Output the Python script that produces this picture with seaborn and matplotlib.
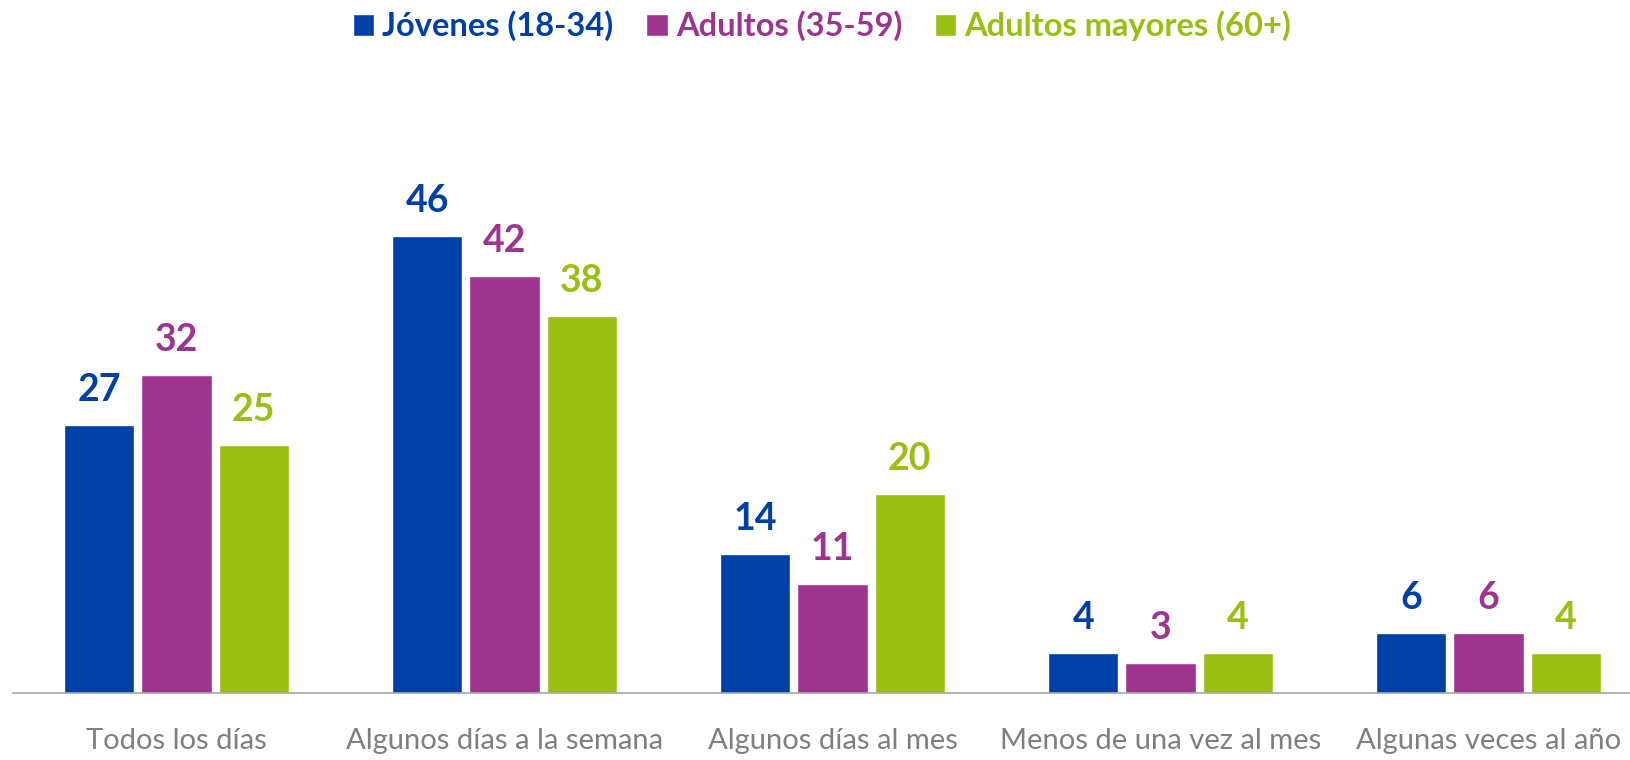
import pandas as pd
import matplotlib.pyplot as plt
import seaborn as sns

# --- Data ---
categorias = ["Todos los días", "Algunos días a la semana", "Algunos días al mes",
              "Menos de una vez al mes", "Algunas veces al año"]
grupos = ["Jóvenes (18-34)", "Adultos (35-59)", "Adultos mayores (60+)"]
jovenes = [27, 46, 14, 4, 6]
adultos = [32, 42, 11, 3, 6]
mayores = [25, 38, 20, 4, 4]
colores = ["#003FA6", "#9E348E", "#9BBE13"]

df = pd.DataFrame({
    "categoria": categorias * 3,
    "grupo": [g for g in grupos for _ in categorias],
    "valor": jovenes + adultos + mayores,
})

sns.set_style("white")
plt.rcParams["font.family"] = ["Lato", "DejaVu Sans"]

fig = plt.figure(figsize=(16.31, 7.6), dpi=100)
ax = fig.add_axes([12.5 / 1631, 67 / 760, 5 * 328 / 1631, 693 / 760])

sns.barplot(data=df, x="categoria", y="valor", hue="grupo", palette=colores,
            width=0.705, gap=0.09, saturation=1, ax=ax, legend=True)

ax.set_xlim(-0.5, 4.5)
ax.set_ylim(0, 69.8)

# value labels
for cont, c in zip(ax.containers, colores):
    ax.bar_label(cont, fmt="%d", padding=13, color=c, fontsize=27, fontweight="bold")

# axes styling
for s in ["left", "top", "right"]:
    ax.spines[s].set_visible(False)
ax.spines["bottom"].set_color("#A6A6A6")
ax.spines["bottom"].set_linewidth(1.2)
ax.set_yticks([])
ax.set_xlabel("")
ax.set_ylabel("")
ax.set_xticks(range(5))
ax.set_xticklabels(categorias, fontsize=21, color="#7F7F7F")
ax.tick_params(axis="x", which="major", length=0, pad=25)
ax.set_xticks([i - 0.5 for i in range(6)], minor=True)
ax.tick_params(axis="x", which="minor", length=12, width=1.2, color="#A6A6A6", direction="out")

# legend
handles, labels = ax.get_legend_handles_labels()
ax.get_legend().remove()
leg = fig.legend(handles, labels, loc="center", bbox_to_anchor=(0.504, 1 - 26 / 760),
                 ncol=3, frameon=False, handlelength=0.65, handleheight=0.65,
                 handletextpad=0.25, columnspacing=1.0, labelcolor=colores,
                 prop={"size": 23.5, "weight": "bold"})

plt.savefig("out.png", dpi=100)
